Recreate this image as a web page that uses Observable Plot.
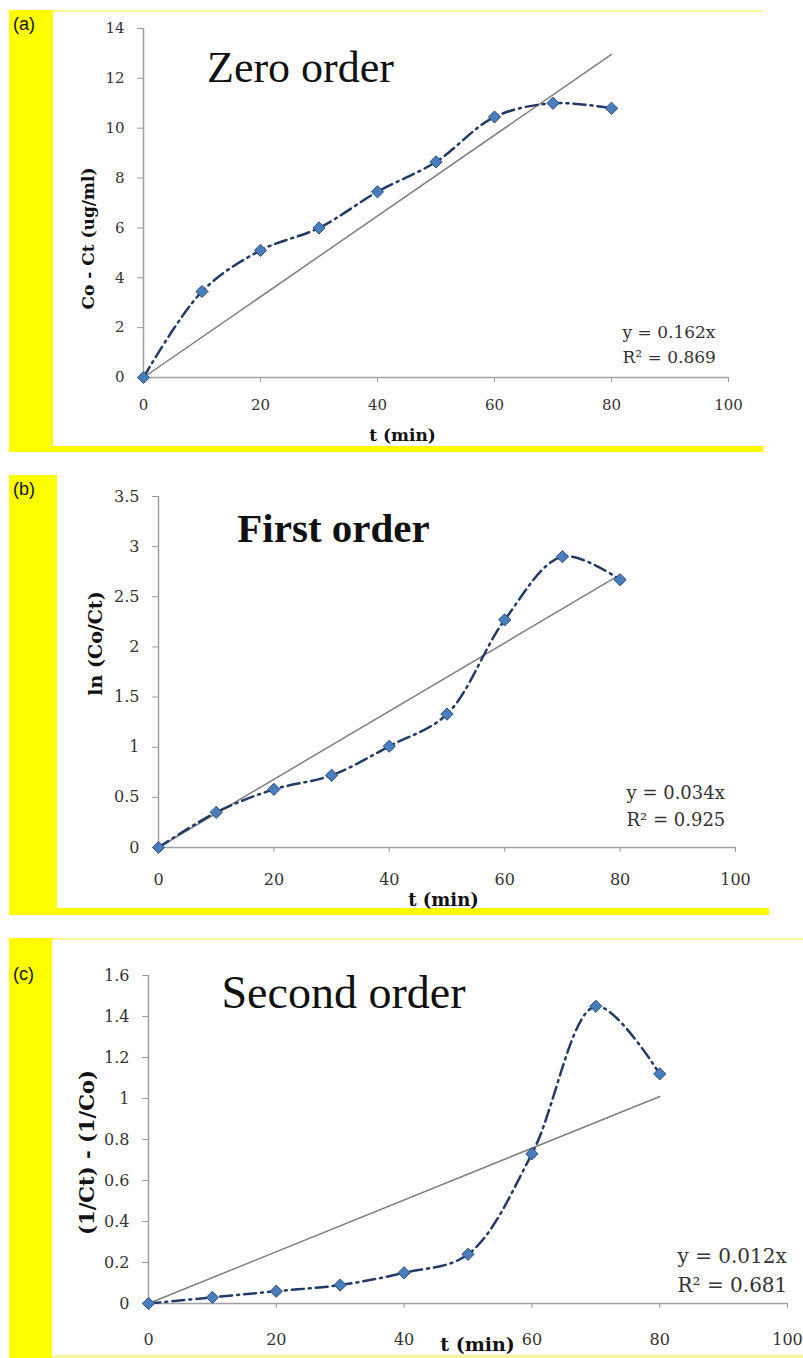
<!DOCTYPE html>
<html>
<head>
<meta charset="utf-8">
<script src="https://cdn.jsdelivr.net/npm/d3@7"></script>
<script src="https://cdn.jsdelivr.net/npm/@observablehq/plot@0.6"></script>
<style>
  html, body { margin: 0; padding: 0; background: #fff; }
  #page { position: relative; width: 803px; height: 1358px; overflow: hidden; background: #fff; }
  .blk { position: absolute; }
  .lbl { position: absolute; font-family: "Liberation Sans", Arial, sans-serif; font-size: 18px; color: #111; }
  .panel { position: absolute; }
</style>
</head>
<body>
<div id="page"></div>
<script>
// ---------- data ----------
const times = [0, 10, 20, 30, 40, 50, 60, 70, 80];
const zeroOrder = [0, 3.45, 5.1, 6.0, 7.45, 8.65, 10.45, 11.0, 10.8];
const firstOrder = [0, 0.35, 0.58, 0.72, 1.01, 1.33, 2.27, 2.9, 2.67];
const secondOrder = [0, 0.03, 0.06, 0.09, 0.15, 0.24, 0.73, 1.45, 1.12];
const trendT = [0, 80];
const zeroTrend = [0, 12.96];
const firstTrend = [0, 2.72];
const secondTrend = [0, 1.01];
const xTicks = [0, 20, 40, 60, 80, 100];
const zeroTicks = [0, 2, 4, 6, 8, 10, 12, 14];
const firstTicks = [0, 0.5, 1, 1.5, 2, 2.5, 3, 3.5];
const secondTicks = [0, 0.2, 0.4, 0.6, 0.8, 1, 1.2, 1.4, 1.6];
const panelLetters = ["(a)", "(b)", "(c)"];
const titles = ["Zero order", "First order", "Second order"];
const yLabels = ["Co - Ct (ug/ml)", "ln (Co/Ct)", "(1/Ct) - (1/Co)"];
const xLabel = "t (min)";
const equations = [["y = 0.162x", "R² = 0.869"], ["y = 0.034x", "R² = 0.925"], ["y = 0.012x", "R² = 0.681"]];

const page = document.getElementById("page");
function block(x, y, w, h, color) {
  const d = document.createElement("div");
  d.className = "blk";
  Object.assign(d.style, {left: x + "px", top: y + "px", width: w + "px", height: h + "px", background: color});
  page.appendChild(d);
}
function letter(txt, x, y) {
  const d = document.createElement("div");
  d.className = "lbl";
  d.textContent = txt;
  d.style.left = x + "px"; d.style.top = y + "px";
  page.appendChild(d);
}
const Y = "#ffff00", LY = "#fbf49a";
// panel a frame
block(9, 10, 754, 2, LY);
block(9, 10, 44, 442, Y);
block(53, 446, 710, 6, Y);
// panel b frame
block(9, 475, 48, 440, Y);
block(57, 908, 712, 7, Y);
// panel c frame
block(9, 938, 794, 2, LY);
block(9, 938, 43, 420, Y);
block(52, 1355, 751, 3, LY);

letter(panelLetters[0], 13, 14);
letter(panelLetters[1], 13, 479);
letter(panelLetters[2], 13, 964);

const tickFont = "'DejaVu Serif', serif";
const titleFont = "'Liberation Serif', serif";

function panel(cfg) {
  const pts = times.map((t, i) => ({t, v: cfg.values[i]}));
  const trend = trendT.map((t, i) => ({t, v: cfg.trend[i]}));
  const fx = cfg.marginLeft;
  const fy = cfg.marginTop;
  const chart = Plot.plot({
    width: cfg.width,
    height: cfg.height,
    marginLeft: cfg.marginLeft,
    marginRight: cfg.marginRight,
    marginTop: cfg.marginTop,
    marginBottom: cfg.marginBottom,
    style: {background: "transparent", fontFamily: tickFont, fontSize: cfg.tickSize + "px", color: "#333", overflow: "visible"},
    x: {domain: [0, 100]},
    y: {domain: cfg.yDomain},
    marks: [
      Plot.axisX({ticks: xTicks, tickSize: 5, tickPadding: cfg.xPad, stroke: "#9a9a9a", fill: "#333", fontSize: cfg.tickSize, fontFamily: tickFont, label: null, tickFormat: d => String(d)}),
      Plot.axisY({ticks: cfg.yTicks, tickSize: 6, tickPadding: 13, stroke: "#9a9a9a", fill: "#333", fontSize: cfg.tickSize, fontFamily: tickFont, label: null, tickFormat: d => String(d)}),
      Plot.ruleY([0], {stroke: "#a0a0a0", strokeWidth: 1.5}),
      Plot.ruleX([0], {stroke: "#a0a0a0", strokeWidth: 1.5}),
      Plot.line(trend, {x: "t", y: "v", stroke: "#7f7f7f", strokeWidth: 1.5}),
      Plot.line(pts, {x: "t", y: "v", curve: "catmull-rom", stroke: "#233a66", strokeWidth: 2.5, strokeDasharray: "12,5,2,5"}),
      Plot.dot(pts, {x: "t", y: "v", symbol: "diamond2", r: 5.5, fill: "#4a7dbb", stroke: "#2d4f7d", strokeWidth: 1}),
      Plot.text([cfg.title], {frameAnchor: "top-left", dx: cfg.titleX - fx, dy: cfg.titleY - fy, text: d => d, textAnchor: "middle", fontSize: cfg.titleSize, fontWeight: cfg.titleWeight, fill: "#111", fontFamily: titleFont}),
      Plot.text([cfg.eq[0]], {frameAnchor: "top-left", dx: cfg.eqX - fx, dy: cfg.eqY - fy, text: d => d, textAnchor: "start", fontSize: cfg.eqSize, fill: "#333", fontFamily: tickFont}),
      Plot.text([cfg.eq[1]], {frameAnchor: "top-left", dx: cfg.eqX - fx, dy: cfg.eqY + cfg.eqGap - fy, text: d => d, textAnchor: "start", fontSize: cfg.eqSize, fill: "#333", fontFamily: tickFont}),
      Plot.text([xLabel], {frameAnchor: "top-left", dx: cfg.xlX - fx, dy: cfg.xlY - fy, text: d => d, textAnchor: "middle", fontSize: cfg.xLabelSize, fontWeight: "bold", fill: "#111", fontFamily: tickFont}),
      Plot.text([cfg.yLabel], {frameAnchor: "top-left", dx: cfg.ylX - fx, dy: cfg.ylY - fy, text: d => d, rotate: -90, textAnchor: "middle", fontSize: cfg.yLabelSize, fontWeight: "bold", fill: "#111", fontFamily: tickFont})
    ]
  });
  const wrap = document.createElement("div");
  wrap.className = "panel";
  wrap.style.left = cfg.left + "px";
  wrap.style.top = cfg.top + "px";
  wrap.appendChild(chart);
  page.appendChild(wrap);
}

// coordinates below are page-relative positions converted to frame offsets
panel({
  left: 53, top: 12, width: 710, height: 433,
  marginLeft: 90, marginRight: 35, marginTop: 16, marginBottom: 68,
  values: zeroOrder, trend: zeroTrend, yDomain: [0, 14], yTicks: zeroTicks, xPad: 17, tickSize: 15,
  title: titles[0], titleX: 300 - 53, titleY: 50 - 12, titleSize: 44, titleWeight: "normal",
  eq: equations[0], eqX: 622 - 53, eqY: 325 - 12, eqGap: 25, eqSize: 17,
  xlX: 402 - 53, xlY: 428 - 12, xLabelSize: 17, ylX: 81 - 53, ylY: 238 - 12, yLabelSize: 17, yLabel: yLabels[0]
});
panel({
  left: 57, top: 475, width: 711, height: 433,
  marginLeft: 101, marginRight: 33, marginTop: 21, marginBottom: 61,
  values: firstOrder, trend: firstTrend, yDomain: [0, 3.5], yTicks: firstTicks, xPad: 21, tickSize: 16,
  title: titles[1], titleX: 333 - 57, titleY: 512 - 475, titleSize: 41, titleWeight: "bold",
  eq: equations[1], eqX: 626 - 57, eqY: 786 - 475, eqGap: 27, eqSize: 18,
  xlX: 443 - 57, xlY: 893 - 475, xLabelSize: 18, ylX: 88 - 57, ylY: 643 - 475, yLabelSize: 19, yLabel: yLabels[1]
});
panel({
  left: 52, top: 941, width: 751, height: 414,
  marginLeft: 96, marginRight: 16, marginTop: 34, marginBottom: 52,
  values: secondOrder, trend: secondTrend, yDomain: [0, 1.6], yTicks: secondTicks, xPad: 25, tickSize: 16,
  title: titles[2], titleX: 343 - 52, titleY: 975 - 941, titleSize: 46, titleWeight: "normal",
  eq: equations[2], eqX: 677 - 52, eqY: 1248 - 941, eqGap: 29, eqSize: 20,
  xlX: 477 - 52, xlY: 1337 - 941, xLabelSize: 19, ylX: 79 - 52, ylY: 1152 - 941, yLabelSize: 21, yLabel: yLabels[2]
});
</script>
</body>
</html>
